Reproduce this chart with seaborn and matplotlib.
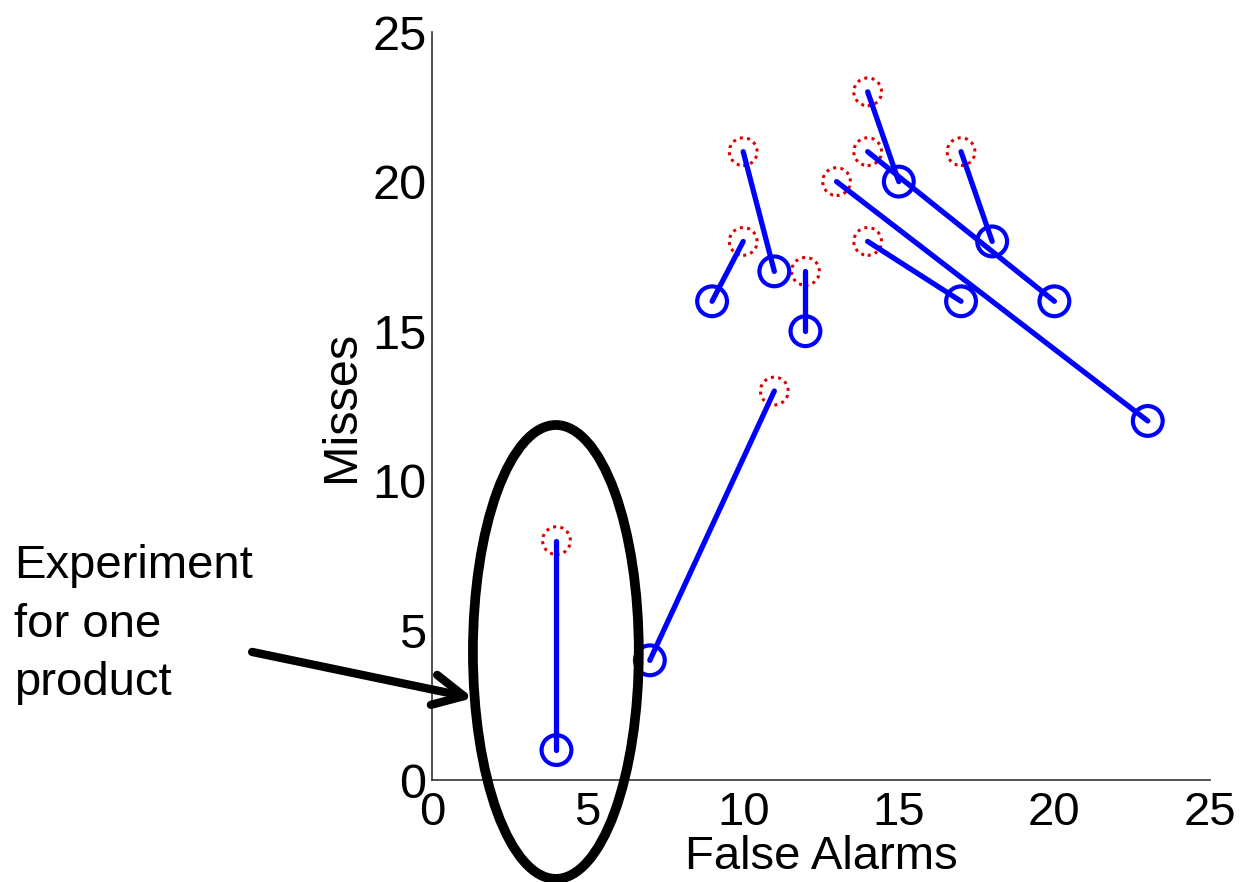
import numpy as np
import pandas as pd
import matplotlib
matplotlib.use("Agg")
import matplotlib.pyplot as plt
from matplotlib.patches import Ellipse
import seaborn as sns

# Data: each product experiment goes from a start (red dotted) to an end (blue circle)
start_x = [4, 11, 10, 10, 12, 14, 14, 17, 13, 14]
start_y = [8, 13, 18, 21, 17, 23, 21, 21, 20, 18]
end_x = [4, 7, 9, 11, 12, 15, 20, 18, 23, 17]
end_y = [1, 4, 16, 17, 15, 20, 16, 18, 12, 16]
ticks = [0, 5, 10, 15, 20, 25]
x_label = "False Alarms"
y_label = "Misses"
note_lines = ["Experiment", "for one", "product"]

sns.set_style("white")
plt.rcParams["font.family"] = ["Liberation Sans", "DejaVu Sans"]
plt.rcParams["text.color"] = "black"
plt.rcParams["axes.labelcolor"] = "black"

fig = plt.figure(figsize=(12.41, 8.82), dpi=100)
ax = fig.add_axes([432 / 1241, 1 - 780 / 882, (1210 - 432) / 1241, (780 - 32) / 882])

n = len(start_x)
lines_df = pd.DataFrame({
    "x": start_x + end_x,
    "y": start_y + end_y,
    "pair": list(range(n)) + list(range(n)),
    "order": [0] * n + [1] * n,
}).sort_values(["pair", "order"])

sns.lineplot(data=lines_df, x="x", y="y", units="pair", estimator=None, sort=False,
             color="#0000ff", linewidth=3.8, ax=ax, legend=False, zorder=3)

sns.scatterplot(x=start_x, y=start_y, marker="o", s=400, facecolor="none",
                edgecolor="#dd0000", linewidth=2.2, linestyle=(0, (1.0, 1.4)),
                ax=ax, zorder=2, legend=False)
sns.scatterplot(x=end_x, y=end_y, marker="o", s=460, facecolor="none",
                edgecolor="#0000ff", linewidth=3.0, ax=ax, zorder=4, legend=False)

ax.set_xlim(0, 25)
ax.set_ylim(0, 25)
ax.set_xticks(ticks)
ax.set_yticks(ticks)
ax.set_xticklabels([str(t) for t in ticks])
ax.set_yticklabels([str(t) for t in ticks])
ax.tick_params(direction="in", length=6, width=1, colors="#333333", labelcolor="black",
               labelsize=35)
ax.tick_params(axis="x", pad=8, labelsize=34)
ax.tick_params(axis="y", pad=4)
for side in ["top", "right"]:
    ax.spines[side].set_visible(False)
for side in ["left", "bottom"]:
    ax.spines[side].set_color("#333333")
    ax.spines[side].set_linewidth(1.2)

ax.set_xlabel(x_label, fontsize=34, labelpad=0)
ax.set_ylabel(y_label, fontsize=35, labelpad=6)

# Ellipse highlighting one experiment
ell = Ellipse((3.98, 4.28), 5.33, 15.17, fill=False, edgecolor="black",
              linewidth=7, clip_on=False, zorder=5)
ax.add_patch(ell)

# Arrow and annotation text
ax.annotate("", xy=(1.32, 2.74), xytext=(-5.78, 4.28), xycoords="data",
            textcoords="data", annotation_clip=False,
            arrowprops=dict(arrowstyle="->,head_length=2.2,head_width=1.1",
                            color="black", linewidth=6, shrinkA=0, shrinkB=0,
                            mutation_scale=10))

for line, base in zip(note_lines, [578, 637, 695]):
    fig.text(14 / 1241, 1 - base / 882, line, fontsize=34, ha="left", va="baseline")

fig.savefig("out.png", dpi=100)
